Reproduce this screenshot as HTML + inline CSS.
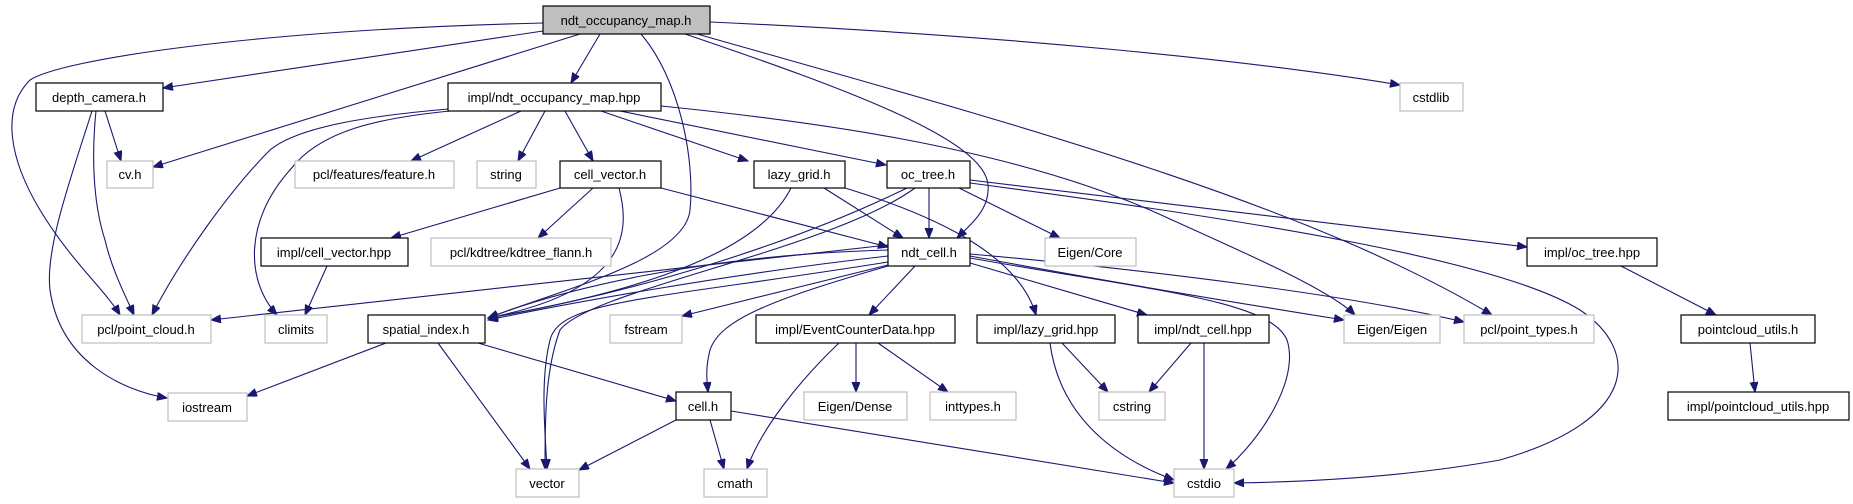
<!DOCTYPE html>
<html><head><meta charset="utf-8"><style>
html,body{margin:0;padding:0;background:#fff;}
svg{display:block;}
text{font-family:"Liberation Sans",sans-serif;font-size:13px;fill:#000;text-anchor:middle;}
.e{fill:none;stroke:#191970;stroke-width:1.1;marker-end:url(#a);}
.n{fill:#fff;stroke:#000;stroke-width:1.2;}
.g{fill:#fff;stroke:#bfbfbf;stroke-width:1.2;}
</style></head><body>
<svg width="1853" height="504" viewBox="0 0 1853 504" xmlns="http://www.w3.org/2000/svg">
<defs><marker id="a" markerUnits="userSpaceOnUse" markerWidth="11" markerHeight="9" refX="10" refY="4" orient="auto"><path d="M0,0 L10,4 L0,8 z" fill="#191970" stroke="#191970"/></marker></defs>
<!-- edges -->
<path class="e" d="M543,31 L163,88"/>
<path class="e" d="M543,23 C250,30 60,60 30,80 C0,110 10,160 40,210 C70,260 105,290 120,315"/>
<path class="e" d="M580,34 L153,167"/>
<path class="e" d="M600,34 L571,83"/>
<path class="e" d="M641,34 C680,80 695,160 690,210 C685,260 560,290 488,318"/>
<path class="e" d="M685,34 C850,90 985,140 988,185 C990,210 970,225 957,238"/>
<path class="e" d="M697,34 C1000,120 1300,200 1492,315"/>
<path class="e" d="M710,22 C1000,35 1250,60 1400,85"/>
<path class="e" d="M448,109 C380,115 300,125 270,150 C230,190 180,260 152,315"/>
<path class="e" d="M450,111 C380,118 320,130 290,170 C245,220 245,280 277,315"/>
<path class="e" d="M521,111 L411,161"/>
<path class="e" d="M545,111 L518,161"/>
<path class="e" d="M565,111 L593,161"/>
<path class="e" d="M601,111 L748,161"/>
<path class="e" d="M620,111 L886,165"/>
<path class="e" d="M661,106 C800,120 1000,145 1150,210 C1250,255 1330,290 1355,315"/>
<path class="e" d="M105,111 L121,161"/>
<path class="e" d="M96,111 C92,150 92,200 105,240 C112,270 125,295 134,315"/>
<path class="e" d="M92,111 C70,180 45,250 50,290 C60,360 120,390 167,398"/>
<path class="e" d="M560,188 L391,238"/>
<path class="e" d="M593,188 L538,238"/>
<path class="e" d="M619,188 C630,230 630,290 488,318"/>
<path class="e" d="M661,188 L888,247"/>
<path class="e" d="M791,188 C760,250 650,290 488,318"/>
<path class="e" d="M824,188 L903,238"/>
<path class="e" d="M845,188 C950,220 1020,260 1036,315"/>
<path class="e" d="M929,188 L929,238"/>
<path class="e" d="M959,188 L1060,238"/>
<path class="e" d="M907,188 C800,240 650,290 488,318"/>
<path class="e" d="M915,188 C830,250 590,290 560,330 C545,370 545,420 545,469"/>
<path class="e" d="M970,180 L1527,247"/>
<path class="e" d="M970,183 C1250,220 1500,260 1580,310 C1640,350 1640,420 1500,460 C1400,478 1300,482 1234,483"/>
<path class="e" d="M888,250 C700,255 560,290 488,318"/>
<path class="e" d="M888,256 C720,275 560,305 488,320"/>
<path class="e" d="M888,245 L211,320"/>
<path class="e" d="M888,262 C650,300 560,300 550,340 C540,380 545,430 547,469"/>
<path class="e" d="M888,265 L682,316"/>
<path class="e" d="M888,266 C770,300 720,320 710,350 C705,370 707,380 708,392"/>
<path class="e" d="M915,266 L869,315"/>
<path class="e" d="M970,263 L1147,315"/>
<path class="e" d="M970,256 C1100,280 1250,305 1344,320"/>
<path class="e" d="M970,254 C1150,270 1350,295 1464,322"/>
<path class="e" d="M970,258 C1150,290 1270,300 1287,340 C1300,380 1260,440 1226,469"/>
<path class="e" d="M839,343 C800,380 760,430 747,469"/>
<path class="e" d="M856,343 L856,392"/>
<path class="e" d="M878,343 L948,392"/>
<path class="e" d="M1062,343 L1108,392"/>
<path class="e" d="M1050,343 C1060,420 1120,460 1174,480"/>
<path class="e" d="M1191,343 L1149,392"/>
<path class="e" d="M1204,343 L1204,469"/>
<path class="e" d="M386,343 L247,396"/>
<path class="e" d="M438,343 L530,469"/>
<path class="e" d="M478,343 L676,401"/>
<path class="e" d="M676,420 L579,470"/>
<path class="e" d="M710,420 L724,469"/>
<path class="e" d="M731,411 L1174,483"/>
<path class="e" d="M327,266 L305,315"/>
<path class="e" d="M1621,266 L1716,315"/>
<path class="e" d="M1750,343 L1755,392"/>
<!-- nodes -->
<rect x="543" y="6" width="167" height="28" fill="#bfbfbf" stroke="#000" stroke-width="1.2"/><text x="626" y="25">ndt_occupancy_map.h</text>
<rect class="n" x="36" y="83" width="127" height="28"/><text x="99" y="102">depth_camera.h</text>
<rect class="n" x="448" y="83" width="213" height="28"/><text x="554" y="102">impl/ndt_occupancy_map.hpp</text>
<rect class="g" x="1400" y="83" width="63" height="28"/><text x="1431" y="102">cstdlib</text>
<rect class="g" x="107" y="161" width="46" height="27"/><text x="130" y="179">cv.h</text>
<rect class="g" x="295" y="161" width="159" height="27"/><text x="374" y="179">pcl/features/feature.h</text>
<rect class="g" x="477" y="161" width="59" height="27"/><text x="506" y="179">string</text>
<rect class="n" x="560" y="161" width="101" height="27"/><text x="610" y="179">cell_vector.h</text>
<rect class="n" x="754" y="161" width="91" height="27"/><text x="799" y="179">lazy_grid.h</text>
<rect class="n" x="887" y="161" width="83" height="27"/><text x="928" y="179">oc_tree.h</text>
<rect class="n" x="261" y="238" width="147" height="28"/><text x="334" y="257">impl/cell_vector.hpp</text>
<rect class="g" x="431" y="238" width="180" height="28"/><text x="521" y="257">pcl/kdtree/kdtree_flann.h</text>
<rect class="n" x="888" y="238" width="82" height="28"/><text x="929" y="257">ndt_cell.h</text>
<rect class="g" x="1045" y="238" width="91" height="28"/><text x="1090" y="257">Eigen/Core</text>
<rect class="n" x="1527" y="238" width="130" height="28"/><text x="1592" y="257">impl/oc_tree.hpp</text>
<rect class="g" x="82" y="315" width="129" height="28"/><text x="146" y="334">pcl/point_cloud.h</text>
<rect class="g" x="265" y="315" width="62" height="28"/><text x="296" y="334">climits</text>
<rect class="n" x="368" y="315" width="117" height="28"/><text x="426" y="334">spatial_index.h</text>
<rect class="g" x="610" y="315" width="72" height="28"/><text x="646" y="334">fstream</text>
<rect class="n" x="756" y="315" width="199" height="28"/><text x="855" y="334">impl/EventCounterData.hpp</text>
<rect class="n" x="977" y="315" width="138" height="28"/><text x="1046" y="334">impl/lazy_grid.hpp</text>
<rect class="n" x="1138" y="315" width="131" height="28"/><text x="1203" y="334">impl/ndt_cell.hpp</text>
<rect class="g" x="1344" y="315" width="96" height="28"/><text x="1392" y="334">Eigen/Eigen</text>
<rect class="g" x="1464" y="315" width="130" height="28"/><text x="1529" y="334">pcl/point_types.h</text>
<rect class="n" x="1681" y="315" width="134" height="28"/><text x="1748" y="334">pointcloud_utils.h</text>
<rect class="g" x="168" y="393" width="79" height="28"/><text x="207" y="412">iostream</text>
<rect class="n" x="676" y="392" width="55" height="28"/><text x="703" y="411">cell.h</text>
<rect class="g" x="804" y="392" width="103" height="28"/><text x="855" y="411">Eigen/Dense</text>
<rect class="g" x="930" y="392" width="86" height="28"/><text x="973" y="411">inttypes.h</text>
<rect class="g" x="1099" y="392" width="66" height="28"/><text x="1132" y="411">cstring</text>
<rect class="n" x="1668" y="392" width="181" height="28"/><text x="1758" y="411">impl/pointcloud_utils.hpp</text>
<rect class="g" x="516" y="469" width="63" height="28"/><text x="547" y="488">vector</text>
<rect class="g" x="704" y="469" width="63" height="28"/><text x="735" y="488">cmath</text>
<rect class="g" x="1174" y="469" width="60" height="28"/><text x="1204" y="488">cstdio</text>
</svg>
</body></html>
